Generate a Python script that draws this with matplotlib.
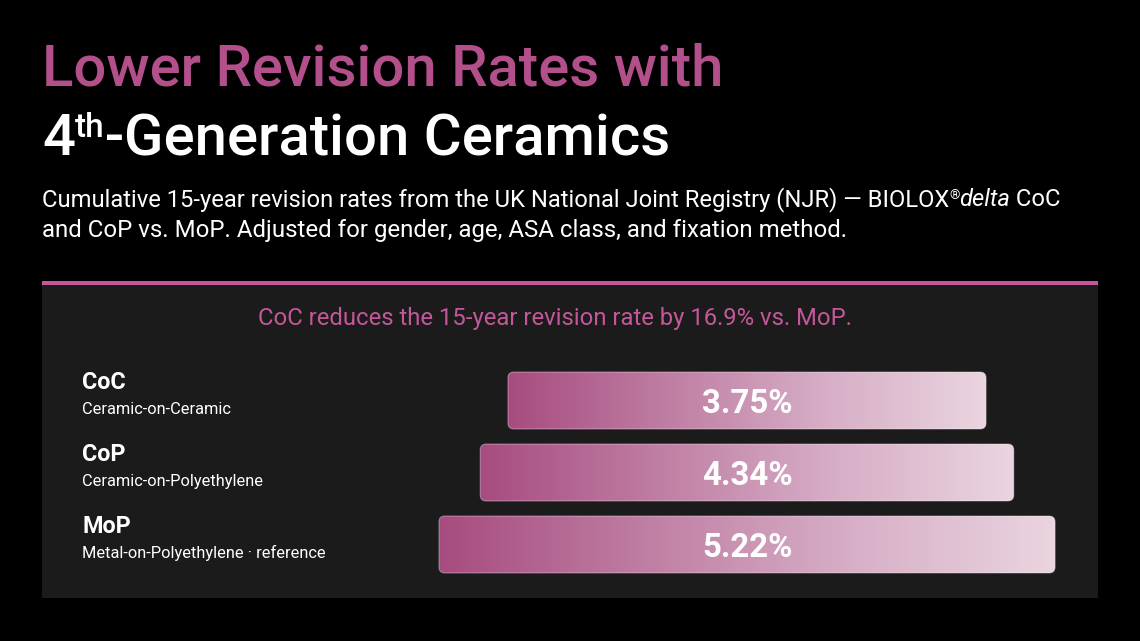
import matplotlib
matplotlib.use("Agg")
import matplotlib.pyplot as plt
import numpy as np
from matplotlib.patches import FancyBboxPatch, Rectangle
from matplotlib.colors import LinearSegmentedColormap

# ---------------- data ----------------
codes = ["CoC", "CoP", "MoP"]
names = ["Ceramic-on-Ceramic", "Ceramic-on-Polyethylene", "Metal-on-Polyethylene \u00b7 reference"]
rates = [3.75, 4.34, 5.22]
value_labels = ["3.75%", "4.34%", "5.22%"]
title_line1 = "Lower Revision Rates with"
callout = "CoC reduces the 15-year revision rate by 16.9% vs. MoP."

W, H, DPI = 1140, 641, 100
PINK = "#b3508c"
PINK2 = "#c4579a"
PANEL = "#1b1b1b"
FONT = "Roboto"

plt.rcParams["font.family"] = [FONT, "DejaVu Sans"]

fig = plt.figure(figsize=(W / DPI, H / DPI), dpi=DPI, facecolor="black")
renderer = fig.canvas.get_renderer()


def fx(px):
    return px / W


def fy(py):
    return 1 - py / H


def chain(x, y, pieces):
    """Draw consecutive text pieces starting at pixel x with baseline y."""
    cur = x
    for txt, kw, dy in pieces:
        t = fig.text(fx(cur), fy(y - dy), txt, va="baseline", ha="left", **kw)
        bb = t.get_window_extent(renderer=renderer)
        cur += bb.width
    return cur


# ---------------- title ----------------
TS = 41.8
fig.text(fx(42), fy(85), title_line1, color=PINK, fontsize=TS,
         fontweight="medium", va="baseline", ha="left")
chain(42, 155, [
    ("4", dict(color="white", fontsize=TS, fontweight="medium"), 0),
    ("th", dict(color="white", fontsize=24, fontweight="medium"), 18),
    ("-Generation Ceramics", dict(color="white", fontsize=TS, fontweight="medium"), 0),
])

# ---------------- subtitle ----------------
SS = 17.1
sub_kw = dict(color="white", fontsize=SS)
chain(42, 206, [
    ("Cumulative 15-year revision rates from the UK National Joint Registry (NJR) \u2014 BIOLOX", sub_kw, 0),
    ("\u00ae", dict(color="white", fontsize=9.5), 7),
    ("delta", dict(color="white", fontsize=SS, fontstyle="italic"), 0),
    (" CoC", sub_kw, 0),
])
fig.text(fx(42), fy(237), "and CoP vs. MoP. Adjusted for gender, age, ASA class, and fixation method.",
         va="baseline", ha="left", color="white", fontsize=17.3)

# ---------------- panel ----------------
fig.patches.append(Rectangle((fx(42), fy(598)), fx(1098) - fx(42), fy(282) - fy(598),
                             transform=fig.transFigure, facecolor=PANEL, edgecolor="none", zorder=-2))
fig.patches.append(Rectangle((fx(42), fy(285)), fx(1098) - fx(42), fy(281) - fy(285),
                             transform=fig.transFigure, facecolor=PINK2, edgecolor="none", zorder=-1))

fig.text(fx(555), fy(325), callout, color=PINK2, fontsize=17.2, ha="center", va="baseline")

# row labels
row_base = [389, 461, 533]
for code, name, yb in zip(codes, names, row_base):
    fig.text(fx(82), fy(yb), code, color="white", fontsize=16.8, fontweight="bold",
             ha="left", va="baseline")
    fig.text(fx(82), fy(yb + 25), name, color="white", fontsize=11.8,
             ha="left", va="baseline")

# ---------------- bars ----------------
ax_l, ax_r, ax_t, ax_b = 430, 1070, 362, 583
ax = fig.add_axes([fx(ax_l), fy(ax_b), fx(ax_r) - fx(ax_l), fy(ax_t) - fy(ax_b)])
ax.set_zorder(5)
ax.set_facecolor("none")
ax.patch.set_alpha(0)
ax.axis("off")
px_per_x = 93.9
px_per_y = 72.0
center_px = 747 - ax_l
xmin = -center_px / px_per_x
xmax = xmin + (ax_r - ax_l) / px_per_x
ymin = -(400.5 - ax_t) / px_per_y
ymax = ymin + (ax_b - ax_t) / px_per_y

base_pad = 1.342  # bar width = rate + constant padding (data units)
bar_h = 57 / px_per_y
cmap = LinearSegmentedColormap.from_list("g", ["#a74c80", "#bf7ea3", "#d7aec6", "#ead5e0"])
grad = np.linspace(0, 1, 256).reshape(1, -1)

for i, (r, lab) in enumerate(zip(rates, value_labels)):
    w = r + base_pad
    left = -w / 2
    bot = i - bar_h / 2
    rad = 6 / px_per_x
    patch = FancyBboxPatch((left, bot), w, bar_h,
                           boxstyle=f"round,pad=0,rounding_size={rad}",
                           mutation_aspect=px_per_x / px_per_y,
                           facecolor="none", edgecolor=(1, 1, 1, 0.35), linewidth=0.8, zorder=3)
    ax.add_patch(patch)
    im = ax.imshow(grad, cmap=cmap, extent=(left, left + w, bot + bar_h, bot),
                   aspect="auto", interpolation="bilinear", zorder=2)
    im.set_clip_path(patch)
    ax.text(0.0, i, lab, color="white", fontsize=23.8, fontweight="bold",
            ha="center", va="center_baseline", zorder=4)

ax.set_xlim(xmin, xmax)
ax.set_ylim(ymax, ymin)

fig.savefig("out.png", dpi=DPI, facecolor="black")
